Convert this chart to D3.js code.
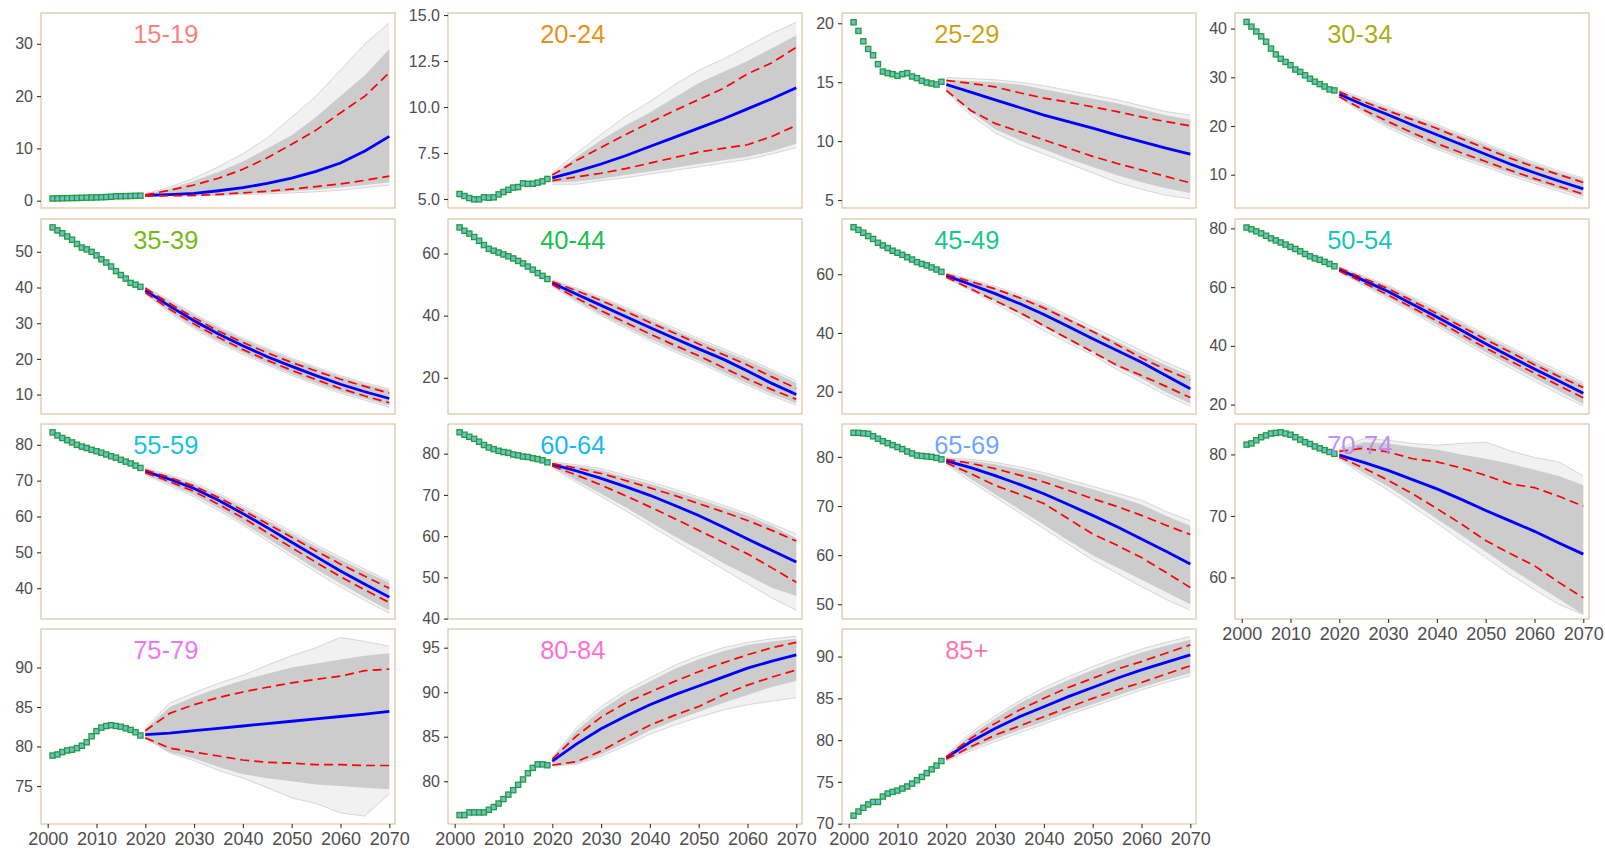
<!DOCTYPE html>
<html lang="en">
<head>
<meta charset="UTF-8">
<title>Projections by age group</title>
<script src="https://d3js.org/d3.v7.min.js"></script>
<style>
    body { margin: 0; background: #fff; }
    svg { display: block; font-family: "Liberation Sans", Arial, sans-serif; }
</style>
</head>
<body>
<div id="chart"></div>
<script>
// facet labels and colours (ggplot hue palette, 15 levels)
const ageGroups = ["15-19","20-24","25-29","30-34","35-39","40-44","45-49","50-54",
                   "55-59","60-64","65-69","70-74","75-79","80-84","85+"];
const groupColors = ["#F8766D","#E58700","#C99800","#A3A500","#6BB100","#00BA38","#00BF7D","#00C0AF",
                     "#00BCD8","#00B0F6","#619CFF","#B983FF","#E76BF3","#FD61D1","#FF67A4"];

const histYears = [2001,2002,2003,2004,2005,2006,2007,2008,2009,2010,2011,2012,2013,2014,2015,2016,2017,2018,2019];
const projYears = [2020,2025,2030,2035,2040,2045,2050,2055,2060,2065,2070];
const xTicks = [2000,2010,2020,2030,2040,2050,2060,2070];
const xDomain = [1998.63, 2071.17];
const labelYear = 2024.2;

const yDomains = [[-1.4,35.9],[4.51,15.11],[4.32,20.87],[3.16,43.2],[4.56,59.2],[8.35,71.1],[12.4,78.8],[16.8,83.2],
                  [31.4,85.8],[39.9,87.2],[47.0,86.7],[53.25,84.95],[70.2,94.87],[75.2,97.1],[69.96,93.3]];
const yTicks = [[0,10,20,30],[5,7.5,10,12.5,15],[5,10,15,20],[10,20,30,40],[10,20,30,40,50],[20,40,60],[20,40,60],
                [20,40,60,80],[40,50,60,70,80],[40,50,60,70,80],[50,60,70,80],[60,70,80],[75,80,85,90],
                [80,85,90,95],[70,75,80,85,90]];

// observed values 2001-2019
const histValues = [
    [0.42,0.44,0.46,0.48,0.5,0.52,0.55,0.58,0.6,0.63,0.66,0.7,0.75,0.85,0.85,0.87,0.9,0.93,0.95],
    [5.27,5.16,5.05,4.98,4.98,5.09,5.07,5.09,5.25,5.38,5.5,5.62,5.65,5.85,5.82,5.83,5.89,5.96,6.09],
    [20.08,19.35,18.47,17.82,17.28,16.53,15.9,15.77,15.68,15.54,15.68,15.77,15.48,15.34,15.11,14.97,14.89,14.8,15.03],
    [41.37,40.4,39.4,38.4,37.3,35.9,34.7,33.8,33.15,32.5,31.6,31.1,30.4,29.7,29.1,28.6,28.1,27.5,27.3],
    [56.85,56.0,55.2,54.3,53.4,52.2,51.2,50.7,50.0,49.0,47.9,47.0,45.9,44.6,43.5,42.5,41.3,40.8,40.2],
    [68.4,67.3,66.4,65.3,64.1,62.7,61.5,60.9,60.3,59.7,59.1,58.4,57.6,56.8,55.8,54.8,53.7,52.8,51.8],
    [76.0,75.1,74.1,73.0,72.0,70.7,69.8,68.9,68.0,67.3,66.6,65.8,65.0,64.1,63.5,63.0,62.3,61.6,60.8],
    [80.3,79.7,79.0,78.3,77.5,76.6,75.9,75.2,74.5,73.7,73.0,72.2,71.3,70.5,69.8,69.3,68.6,67.9,67.1],
    [83.46,82.6,81.9,81.3,80.65,80.0,79.5,79.1,78.6,78.2,77.8,77.3,76.8,76.4,75.8,75.3,74.8,74.2,73.55],
    [85.2,84.6,84.1,83.6,82.9,82.1,81.5,81.1,80.7,80.4,80.2,79.8,79.6,79.3,79.2,78.9,78.7,78.4,77.9],
    [84.9,84.9,84.8,84.7,84.2,83.7,83.2,82.8,82.4,82.0,81.6,81.1,80.7,80.3,80.2,80.1,80.0,79.8,79.5],
    [81.6,81.8,82.3,82.8,83.1,83.4,83.5,83.6,83.4,83.2,82.8,82.4,82.0,81.7,81.3,81.0,80.7,80.4,80.1],
    [78.86,79.0,79.3,79.5,79.6,79.8,80.1,80.55,81.3,81.95,82.4,82.6,82.7,82.6,82.5,82.3,82.1,81.8,81.4],
    [76.2,76.2,76.5,76.5,76.5,76.5,76.8,77.1,77.5,78.0,78.5,79.0,79.6,80.2,80.9,81.5,81.9,81.9,81.8],
    [70.96,71.45,71.9,72.3,72.6,72.6,73.25,73.6,73.8,73.96,74.2,74.45,74.8,75.2,75.6,76.05,76.5,76.95,77.5]
];

// projections 2020-2070: median and dashed bounds
const medianValues = [
    [1.0,1.15,1.4,1.9,2.5,3.3,4.3,5.6,7.2,9.5,12.3],
    [6.15,6.5,6.9,7.35,7.85,8.35,8.85,9.35,9.9,10.45,11.05],
    [14.8,14.15,13.5,12.85,12.2,11.65,11.1,10.5,9.95,9.4,8.9],
    [26.5,24.3,22.3,20.2,18.2,16.2,14.2,12.2,10.4,8.7,7.1],
    [39.2,34.8,30.7,27.0,23.7,20.6,17.9,15.3,12.9,10.8,8.9],
    [50.5,46.9,43.3,39.7,36.2,32.7,29.3,26.0,22.2,18.2,14.6],
    [59.5,56.5,53.4,50.0,46.3,42.2,38.0,34.0,30.0,25.5,21.0],
    [66.0,62.3,58.5,54.2,49.8,45.3,40.7,36.4,32.1,28.0,23.9],
    [72.6,70.4,67.8,64.5,60.8,56.9,52.8,48.8,44.8,41.1,37.5],
    [77.4,75.8,74.0,72.0,69.9,67.5,65.0,62.2,59.3,56.5,53.7],
    [79.2,77.8,76.2,74.4,72.5,70.3,68.1,65.8,63.3,60.8,58.2],
    [79.9,78.7,77.4,75.9,74.4,72.7,70.9,69.2,67.5,65.6,63.8],
    [81.5,81.7,82.0,82.3,82.6,82.9,83.2,83.5,83.8,84.1,84.45],
    [82.25,84.2,85.9,87.3,88.6,89.7,90.7,91.7,92.7,93.5,94.2],
    [77.9,79.8,81.4,82.8,84.0,85.2,86.3,87.4,88.4,89.3,90.2]
];
const upperValues = [
    [1.1,2.0,3.0,4.3,6.0,8.2,10.8,13.5,16.8,20.0,24.5],
    [6.3,7.1,7.8,8.5,9.15,9.8,10.4,11.0,11.8,12.4,13.25],
    [15.15,14.9,14.6,14.1,13.65,13.3,12.9,12.5,12.05,11.65,11.3],
    [27.0,25.0,23.1,21.3,19.5,17.4,15.4,13.4,11.6,10.0,8.4],
    [39.8,35.5,31.5,27.8,24.6,21.7,19.0,16.6,14.3,12.3,10.4],
    [51.0,48.0,44.9,41.4,37.8,34.4,30.9,27.5,24.1,20.3,16.6],
    [60.0,57.5,55.0,52.0,48.5,44.5,40.5,36.0,31.5,27.5,24.0],
    [66.5,63.0,59.5,55.3,51.0,46.6,42.2,37.9,33.6,29.6,25.8],
    [73.0,70.9,68.5,65.3,61.7,58.0,54.2,50.4,46.7,43.3,40.0],
    [77.6,76.5,75.2,73.5,71.7,69.9,67.9,65.9,63.8,61.4,58.8],
    [79.5,78.7,77.6,76.3,74.9,73.2,71.5,69.9,68.1,66.1,64.2],
    [80.5,81.0,80.4,79.3,78.8,77.8,76.6,75.2,74.6,73.2,71.6],
    [82.0,84.2,85.3,86.2,86.9,87.5,88.05,88.5,88.9,89.6,89.8],
    [82.5,85.1,87.2,88.8,90.0,91.2,92.3,93.3,94.2,95.0,95.6],
    [78.0,80.2,82.0,83.6,85.0,86.3,87.4,88.5,89.4,90.4,91.4]
];
const lowerValues = [
    [0.9,0.95,1.0,1.2,1.5,1.8,2.2,2.7,3.2,3.9,4.7],
    [6.0,6.2,6.4,6.65,6.95,7.25,7.55,7.75,7.95,8.4,9.0],
    [14.3,12.6,11.5,10.8,10.1,9.4,8.7,8.1,7.55,7.0,6.45],
    [26.0,23.3,20.9,18.6,16.4,14.5,12.7,10.9,9.2,7.6,6.0],
    [38.6,33.9,29.8,26.0,22.6,19.6,16.8,14.2,11.7,9.6,7.7],
    [50.0,45.6,41.6,37.8,34.1,30.5,27.1,23.3,19.6,16.2,13.1],
    [59.0,55.0,51.0,47.0,42.5,38.0,33.5,29.0,25.5,21.8,18.0],
    [65.5,61.5,57.3,53.0,48.5,43.9,39.3,34.9,30.7,26.5,22.3],
    [72.2,69.7,67.0,63.4,59.6,55.5,51.3,47.2,43.2,39.5,36.0],
    [77.0,74.8,72.4,69.8,67.1,64.3,61.4,58.5,55.7,52.3,48.8],
    [78.8,76.6,74.2,72.4,70.5,67.4,64.3,62.0,59.5,56.5,53.4],
    [79.6,77.8,75.8,73.6,71.2,68.7,66.0,63.9,61.9,59.2,56.7],
    [81.1,79.8,79.3,78.8,78.3,78.0,77.9,77.7,77.7,77.6,77.6],
    [81.8,82.2,83.4,84.9,86.3,87.4,88.4,89.7,90.8,91.7,92.5],
    [77.7,79.2,80.6,81.7,82.8,83.9,85.0,86.0,86.9,87.9,88.9]
];

// spread of the simulated paths: dense core and outermost paths
const grayHi = [
    [1.2,2.3,3.8,5.5,7.5,10.0,12.5,16.0,20.0,24.0,29.0],
    [6.3,7.3,8.2,9.0,9.7,10.5,11.3,11.9,12.5,13.2,13.9],
    [15.2,15.1,15.0,14.8,14.4,14.0,13.6,13.2,12.7,12.2,11.8],
    [27.2,25.4,23.6,21.8,20.0,18.0,16.1,14.1,12.2,10.5,9.0],
    [40.0,36.2,32.3,28.7,25.5,22.6,19.9,17.4,15.0,13.0,11.2],
    [51.3,48.6,45.6,42.3,38.8,35.4,32.0,28.8,25.6,22.0,18.3],
    [60.2,58.0,55.5,52.5,49.5,45.2,41.0,37.0,33.0,29.0,25.6],
    [66.7,63.5,60.3,56.2,52.0,47.7,43.3,39.0,34.8,30.8,27.0],
    [73.3,71.3,69.0,66.0,62.5,58.9,55.2,51.6,48.0,44.7,41.5],
    [77.8,77.0,76.0,74.3,72.7,70.9,69.0,67.0,65.0,62.5,59.5],
    [79.6,79.2,78.5,77.5,76.3,74.8,73.4,71.9,70.3,68.0,66.0],
    [80.8,82.0,81.8,81.2,80.8,80.0,79.3,78.5,77.5,76.5,75.0],
    [82.2,85.0,86.3,87.4,88.4,89.2,90.0,90.5,91.0,91.5,91.8],
    [82.6,85.7,88.0,89.8,91.2,92.6,93.7,94.6,95.3,95.7,96.0],
    [78.1,80.6,82.6,84.4,85.9,87.2,88.4,89.5,90.5,91.3,92.0]
];
const grayLo = [
    [0.9,0.95,1.0,1.1,1.3,1.5,1.8,2.1,2.5,3.0,3.5],
    [5.9,5.95,6.1,6.3,6.5,6.7,6.9,7.1,7.3,7.6,8.0],
    [14.3,12.5,11.0,10.1,9.3,8.5,7.8,7.1,6.5,6.0,5.6],
    [25.9,22.8,20.0,17.8,15.6,13.7,12.0,10.2,8.6,7.0,5.5],
    [38.4,33.2,28.9,25.0,21.7,18.7,15.8,13.2,10.8,8.8,6.9],
    [49.6,44.8,40.4,36.5,32.6,29.0,25.6,21.8,18.2,14.8,11.8],
    [58.8,55.0,50.8,46.5,42.0,37.5,33.5,28.5,24.5,19.8,16.0],
    [65.3,61.0,56.5,52.0,47.3,42.5,37.8,33.4,29.0,24.6,20.2],
    [71.8,69.0,66.0,62.3,58.2,53.9,49.6,45.3,41.3,37.4,33.8],
    [76.8,73.5,70.3,67.0,63.5,60.0,56.8,53.5,50.5,47.5,45.5],
    [78.6,75.5,72.4,69.3,66.2,63.0,60.0,57.5,55.0,52.5,50.0],
    [79.4,77.0,74.8,72.2,69.5,66.9,64.2,61.5,59.0,56.5,54.0],
    [81.0,79.3,78.5,77.4,76.5,76.0,75.6,75.2,75.0,74.8,74.6],
    [81.7,82.0,83.0,84.3,85.7,86.8,87.8,88.8,89.7,90.6,91.3],
    [77.6,78.9,80.1,81.2,82.2,83.3,84.3,85.3,86.3,87.2,88.0]
];
const outerHi = [
    [1.3,2.6,4.3,6.5,9.0,12.0,16.0,20.0,25.0,30.0,34.0],
    [6.4,7.5,8.5,9.5,10.3,11.2,12.0,12.6,13.3,14.0,14.6],
    [15.4,15.3,15.2,15.0,14.7,14.3,13.9,13.5,13.0,12.5,12.2],
    [27.4,25.7,23.9,22.1,20.3,18.3,16.4,14.4,12.5,10.8,9.3],
    [40.2,36.5,32.6,29.0,25.8,22.9,20.2,17.7,15.3,13.3,11.6],
    [51.5,48.9,46.0,42.7,39.3,36.0,32.6,29.4,26.2,22.6,19.0],
    [60.4,58.3,55.9,53.0,50.0,46.0,42.0,38.0,34.0,30.0,26.5],
    [66.9,63.8,60.6,56.6,52.5,48.2,43.9,39.6,35.4,31.5,27.5],
    [73.5,71.6,69.4,66.4,63.0,59.5,55.8,52.2,48.6,45.3,42.0],
    [78.0,77.3,76.4,74.8,73.2,71.4,69.5,67.5,65.5,63.0,60.5],
    [79.8,79.5,78.9,78.0,76.8,75.4,74.0,72.6,71.2,68.9,67.0],
    [81.0,82.6,82.3,81.8,81.5,81.8,82.0,80.6,79.5,78.8,76.5],
    [82.4,85.5,86.8,88.0,89.0,90.3,91.5,92.5,93.8,93.3,92.7],
    [82.7,86.0,88.4,90.2,91.6,93.0,94.1,95.0,95.6,96.0,96.3],
    [78.2,80.9,82.9,84.7,86.3,87.6,88.8,89.9,90.9,91.7,92.4]
];
const outerLo = [
    [0.85,0.9,0.95,1.0,1.15,1.3,1.5,1.7,2.0,2.5,3.0],
    [5.8,5.8,6.0,6.15,6.35,6.55,6.75,6.95,7.15,7.45,7.8],
    [14.2,12.2,10.7,9.7,8.9,8.1,7.3,6.5,5.9,5.4,5.1],
    [25.8,22.5,19.6,17.3,15.2,13.3,11.6,9.8,8.2,6.6,5.0],
    [38.2,32.9,28.5,24.6,21.3,18.3,15.4,12.8,10.4,8.4,6.5],
    [49.4,44.4,40.0,36.0,32.0,28.4,25.0,21.2,17.6,14.2,11.2],
    [58.6,54.5,50.0,45.5,40.8,36.5,32.5,27.5,23.2,18.8,15.0],
    [65.1,60.6,56.0,51.4,46.6,41.8,37.0,32.5,28.0,23.6,19.5],
    [71.6,68.6,65.5,61.7,57.6,53.2,48.8,44.4,40.3,36.6,33.0],
    [76.6,73.0,69.6,66.2,62.6,59.0,55.5,52.0,48.5,45.0,42.0],
    [78.4,75.0,71.8,68.6,65.4,62.2,59.0,56.3,53.6,51.0,48.8],
    [79.2,76.6,74.2,71.5,68.8,66.0,63.2,60.5,58.0,55.6,54.0],
    [81.0,79.2,78.2,77.0,76.0,74.8,73.5,72.8,71.6,71.2,74.0],
    [81.7,81.9,82.8,84.0,85.3,86.3,87.2,88.0,88.6,89.0,89.4],
    [77.5,78.7,79.8,80.9,81.9,83.0,84.0,85.0,86.0,86.9,87.7]
];

// panel frames (facet_wrap, 4 columns, free scales)
const colLeft = [41, 448, 842, 1235];
const rowTop = [13, 219, 424, 629];
const panelW = 354, panelH = 195;

const svg = d3.select("#chart").append("svg")
    .attr("width", 1605)
    .attr("height", 851);

const x = d3.scaleLinear().domain(xDomain).range([0, panelW]);

ageGroups.forEach((name, i) => {
    const col = i % 4, row = Math.floor(i / 4);
    const g = svg.append("g").attr("transform", `translate(${colLeft[col]},${rowTop[row]})`);
    const y = d3.scaleLinear().domain(yDomains[i]).range([panelH, 0]);

    g.append("clipPath").attr("id", "clip" + i)
        .append("rect").attr("width", panelW).attr("height", panelH);
    const plot = g.append("g").attr("clip-path", `url(#clip${i})`);

    const proj = projYears.map((yr, k) => ({
        yr: yr, med: medianValues[i][k], up: upperValues[i][k], lo: lowerValues[i][k],
        gHi: grayHi[i][k], gLo: grayLo[i][k], oHi: outerHi[i][k], oLo: outerLo[i][k]
    }));

    // simulated paths: faint outer band, dense core, outermost paths
    plot.append("path").datum(proj)
        .attr("d", d3.area().x(d => x(d.yr)).y0(d => y(d.oLo)).y1(d => y(d.oHi)))
        .attr("fill", "#cccccc").attr("fill-opacity", 0.28);
    plot.append("path").datum(proj)
        .attr("d", d3.area().x(d => x(d.yr)).y0(d => y(d.gLo)).y1(d => y(d.gHi)))
        .attr("fill", "#cccccc");
    ["oHi", "oLo"].forEach(key => {
        plot.append("path").datum(proj)
            .attr("d", d3.line().x(d => x(d.yr)).y(d => y(d[key])))
            .attr("fill", "none").attr("stroke", "#cdcdcd").attr("stroke-width", 0.8);
    });

    plot.append("path").datum(proj)
        .attr("d", d3.line().x(d => x(d.yr)).y(d => y(d.med)))
        .attr("fill", "none").attr("stroke", "#0000ff").attr("stroke-width", 2.8);

    ["up", "lo"].forEach(key => {
        plot.append("path").datum(proj)
            .attr("d", d3.line().x(d => x(d.yr)).y(d => y(d[key])))
            .attr("fill", "none").attr("stroke", "#ff0000").attr("stroke-width", 1.7)
            .attr("stroke-dasharray", "9,5");
    });

    plot.selectAll("rect.obs")
        .data(histYears.map((yr, k) => ({ yr: yr, v: histValues[i][k] })))
        .enter().append("rect")
        .attr("class", "obs")
        .attr("x", d => x(d.yr) - 2.6)
        .attr("y", d => y(d.v) - 2.6)
        .attr("width", 5.2).attr("height", 5.2)
        .attr("fill", "#66c2d2").attr("stroke", "#2a9a36").attr("stroke-width", 1.3);

    g.append("text")
        .attr("x", x(labelYear))
        .attr("y", 30)
        .attr("text-anchor", "middle")
        .attr("font-size", 25.5)
        .attr("fill", groupColors[i])
        .attr("fill-opacity", 0.92)
        .text(name);

    g.append("rect")
        .attr("width", panelW).attr("height", panelH)
        .attr("fill", "none").attr("stroke", "#d8bf99").attr("stroke-width", 1.1);

    // y axis
    const fmt = i === 1 ? d3.format(".1f") : d3.format("d");
    const ya = g.append("g")
        .call(d3.axisLeft(y).tickValues(yTicks[i]).tickFormat(fmt).tickSize(4).tickPadding(4));
    ya.select(".domain").remove();
    ya.selectAll(".tick line").attr("stroke", "#333333").attr("stroke-width", 1.1);
    ya.selectAll(".tick text").attr("fill", "#4d4d4d").attr("font-size", 16)
        .attr("font-family", "Liberation Sans, Arial, sans-serif");

    // x axis only at the bottom of each column
    if (row === 3 || i === 11) {
        const xa = g.append("g").attr("transform", `translate(0,${panelH})`)
            .call(d3.axisBottom(x).tickValues(xTicks).tickFormat(d3.format("d")).tickSize(4).tickPadding(4));
        xa.select(".domain").remove();
        xa.selectAll(".tick line").attr("stroke", "#333333").attr("stroke-width", 1.1);
        xa.selectAll(".tick text").attr("fill", "#4d4d4d").attr("font-size", 18)
            .attr("font-family", "Liberation Sans, Arial, sans-serif");
    }
});
</script>
</body>
</html>
